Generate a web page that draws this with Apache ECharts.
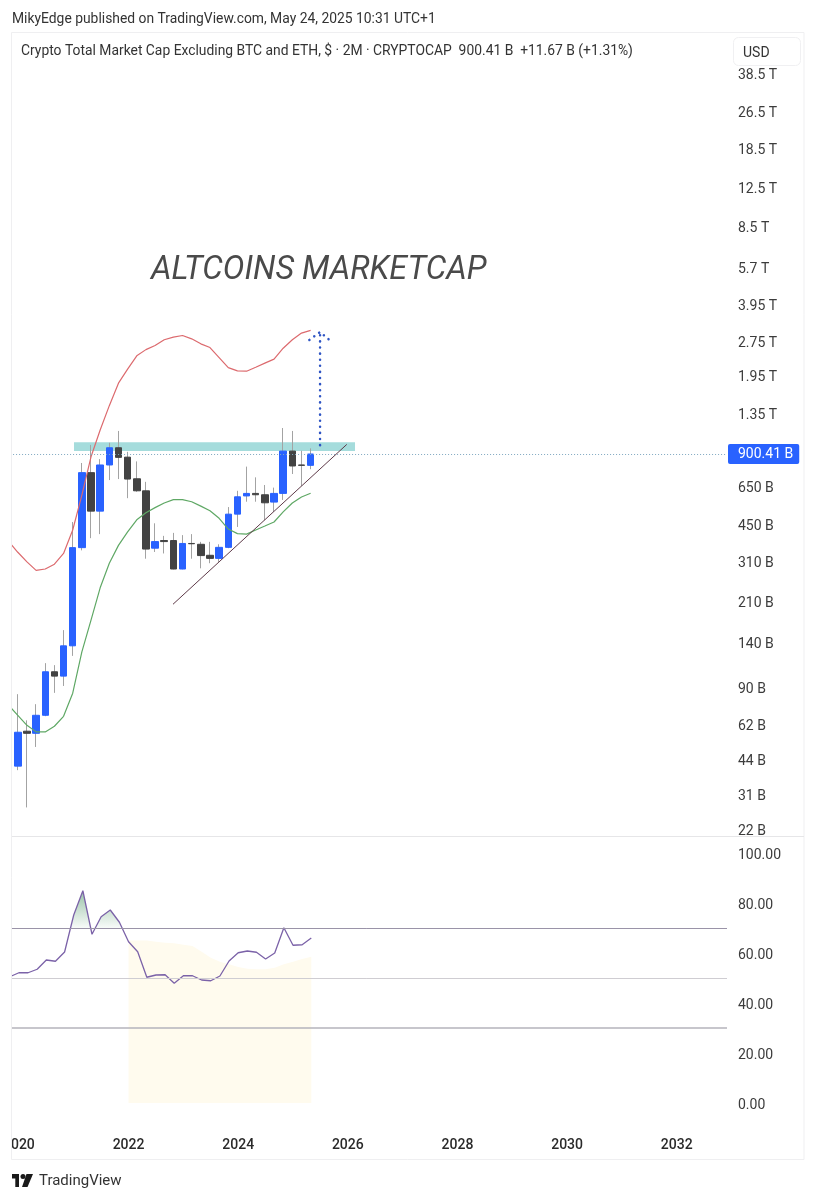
<!DOCTYPE html>
<html>
<head>
<meta charset="utf-8">
<title>Altcoins Marketcap</title>
<script src="https://cdn.jsdelivr.net/npm/echarts@6/dist/echarts.min.js"></script>
<style>
  html, body { margin: 0; padding: 0; background: #fff; }
  #chart { width: 816px; height: 1200px; }
</style>
</head>
<body>
<div id="chart"></div>
<script>
// 2M bars, the first slot is only there so the indicators run off the left edge
const barDates = [
  '2019-11',
  '2020-01','2020-03','2020-05','2020-07','2020-09','2020-11',
  '2021-01','2021-03','2021-05','2021-07','2021-09','2021-11',
  '2022-01','2022-03','2022-05','2022-07','2022-09','2022-11',
  '2023-01','2023-03','2023-05','2023-07','2023-09','2023-11',
  '2024-01','2024-03','2024-05','2024-07','2024-09','2024-11',
  '2025-01','2025-03','2025-05','2025-07','2025-09','2025-11',
  '2026-01','2026-03','2026-05','2026-07','2026-09','2026-11',
  '2027-01','2027-03','2027-05','2027-07','2027-09','2027-11',
  '2028-01','2028-03','2028-05','2028-07','2028-09','2028-11',
  '2029-01','2029-03','2029-05','2029-07','2029-09','2029-11',
  '2030-01','2030-03','2030-05','2030-07','2030-09','2030-11',
  '2031-01','2031-03','2031-05','2031-07','2031-09','2031-11',
  '2032-01','2032-03','2032-05','2032-07','2032-09','2032-11'
];

// candles from 2020-01 to 2025-05, in billions of USD
const opens = [41.2,58.2,57.0,68.1,104.7,100.3,135.3,357,749,512,808,958,873,705,626,355,383,383,289,372,369,331,321,358,497,595,610,602,560,610,927,808,805];
const closes = [57.6,57.0,68.1,104.7,100.3,135.3,357,749,512,808,958,871,703,626,352,379,379,289,372,371,330,321,358,497,590,610,602,556,610,927,800,805,900.41];
const lows = [39.6,27.4,49.8,67.5,85,91,122.5,347.5,392,408,696,703,582,620,320,342,337,288,288,320,291,306,310,355,438,562,562,468,508,572,739,657,775];
const highs = [83.9,64.8,76,114,111.8,158,460,824,985,856,1006,1131,920,837,684,454,401,413,404,408,378,378,369,533,626,795,715,663,646,1164,1131,930,952];

// bands start one slot before the candles
const upperBand = [380,341,310,285,289,303,337,425,600,876,1142,1452,1813,2083,2376,2526,2630,2784,2860,2904,2810,2675,2578,2335,2115,2048,2041,2123,2210,2300,2562,2784,2974,3055];
const lowerBand = [75.2,68.1,61.7,57.8,57.8,61.1,67.4,84.7,127.5,174.5,240,306,365,417,470,504,530,555,574,574,562,538,514,477,429,410,408,425,442,460,508,555,589,611];

const rsiValues = [50.5,52.1,52.1,53.5,57.2,56.7,60.4,75.2,84.9,67.5,74.5,77.2,72.3,64.5,60.5,50.3,51.2,51.3,47.9,50.9,50.9,49.2,48.9,50.8,56.8,60.1,60.8,60.3,57.6,60,70.1,63.1,63.3,66];
// yellow area starts at 2022-01 (slot 13)
const rsiShadeStart = 13;
const rsiShade = [65,65,65,64.5,64.1,63.9,63.3,62.8,60.5,58.1,56.5,55.5,54.4,53.7,53.5,53.5,54.1,55.5,56.5,57.6,58.5];

const lastPrice = 900.41;
const priceTicks = [38500,26500,18500,12500,8500,5700,3950,2750,1950,1350,650,450,310,210,140,90,62,44,31,22];
const priceTickLabels = ['38.5 T','26.5 T','18.5 T','12.5 T','8.5 T','5.7 T','3.95 T','2.75 T','1.95 T','1.35 T','650 B','450 B','310 B','210 B','140 B','90 B','62 B','44 B','31 B','22 B'];
const rsiTicks = [0,20,40,60,80,100];

// drawings, [slot, price]
const zoneCorners = [[7.14,1011],[37.85,927]];
const trendLine = [[17.96,204],[36.95,990]];
const arrowShaft = [[34.03,983],[34.03,3006]];
const arrowHead = [[32.86,2778],[34.03,3006],[35.15,2758]];

const chart = echarts.init(document.getElementById('chart'), null, { renderer: 'canvas' });
const font = 'Roboto';
const priceLabelOf = new Map(priceTicks.map((v, i) => [v, priceTickLabels[i]]));
// pushes the axis labels a little below their tick
const tickRich = { t: { padding: [4, 0, 0, 0], fontSize: 14, color: '#3c3c3c', fontFamily: font } };

const wickData = [['-','-','-','-']].concat(opens.map((o, i) => [o, closes[i], lows[i], highs[i]]));
const bodyData = [['-','-','-','-']].concat(opens.map((o, i) => [o, closes[i], Math.min(o, closes[i]), Math.max(o, closes[i])]));
const shadeData = barDates.map((d, i) => {
  const v = rsiShade[i - rsiShadeStart];
  return v === undefined ? '-' : v;
});

const option = {
  animation: false,
  backgroundColor: '#ffffff',
  textStyle: { fontFamily: font },
  grid: [
    { left: 4.08, right: 89, top: 37, height: 799 },
    { left: 4.08, right: 89, top: 836, height: 289 }
  ],
  xAxis: [
    { type: 'category', gridIndex: 0, data: barDates, axisLine: { show: false }, axisTick: { show: false }, axisLabel: { show: false } },
    { type: 'value', gridIndex: 0, min: -0.5, max: 78.5, show: false },
    {
      type: 'category', gridIndex: 1, data: barDates,
      axisLine: { show: false }, axisTick: { show: false },
      axisLabel: {
        margin: 13, fontSize: 14, fontWeight: 500, color: '#2a2a2a', fontFamily: font,
        hideOverlap: false,
        interval: (i, v) => v.endsWith('-01') && Number(v.slice(0, 4)) % 2 === 0,
        formatter: v => v.slice(0, 4)
      }
    }
  ],
  yAxis: [
    {
      type: 'log', gridIndex: 0, position: 'right', logBase: 10, min: 20.66, max: 55470,
      axisLine: { show: false }, axisTick: { show: false }, splitLine: { show: false },
      axisLabel: {
        customValues: priceTicks, margin: 11, rich: tickRich,
        formatter: v => '{t|' + (priceLabelOf.get(v) || '') + '}'
      }
    },
    {
      type: 'value', gridIndex: 1, position: 'right', min: -8.8, max: 106.8,
      axisLine: { show: false }, axisTick: { show: false }, splitLine: { show: false },
      axisLabel: {
        customValues: rsiTicks, margin: 11, rich: tickRich,
        formatter: v => '{t|' + v.toFixed(2) + '}'
      }
    }
  ],
  series: [
    {
      name: 'zone', type: 'line', xAxisIndex: 1, yAxisIndex: 0, data: [], silent: true,
      markArea: {
        silent: true,
        itemStyle: { color: '#a5dcdc' },
        data: [[{ coord: zoneCorners[0] }, { coord: zoneCorners[1] }]]
      }
    },
    {
      name: 'wicks', type: 'candlestick', xAxisIndex: 0, yAxisIndex: 0, data: wickData, barWidth: 1,
      itemStyle: { color: '#a3a3a3', color0: '#a3a3a3', borderColor: '#a3a3a3', borderColor0: '#a3a3a3', borderWidth: 1 },
      markLine: {
        silent: true, symbol: 'none', animation: false,
        lineStyle: { color: '#7fa8c0', type: [1, 2], width: 1 },
        label: {
          position: 'end', distance: 1, formatter: '900.41 B', color: '#ffffff', fontSize: 14, fontFamily: font,
          backgroundColor: '#2962ff', borderRadius: 2, padding: [3, 6, 3, 10]
        },
        data: [{ yAxis: lastPrice }]
      }
    },
    {
      name: 'bodies', type: 'candlestick', xAxisIndex: 0, yAxisIndex: 0, data: bodyData, barWidth: 7,
      itemStyle: { color: '#2962ff', color0: '#434343', borderColor: '#2962ff', borderColor0: '#434343', borderWidth: 1 }
    },
    {
      name: 'upper', type: 'line', xAxisIndex: 0, yAxisIndex: 0, data: upperBand, symbol: 'none',
      lineStyle: { color: '#dc6a6e', width: 1.2 }, z: 4
    },
    {
      name: 'lower', type: 'line', xAxisIndex: 0, yAxisIndex: 0, data: lowerBand, symbol: 'none',
      lineStyle: { color: '#5fa865', width: 1.2 }, z: 4
    },
    {
      name: 'trend', type: 'line', xAxisIndex: 1, yAxisIndex: 0, data: trendLine, symbol: 'none',
      lineStyle: { color: '#5e3a48', width: 1 }, z: 5
    },
    {
      name: 'arrowShaft', type: 'line', xAxisIndex: 1, yAxisIndex: 0, data: arrowShaft, symbol: 'none',
      lineStyle: { color: '#2f55c4', width: 2.5, type: [0.1, 6], cap: 'round' }, z: 5
    },
    {
      name: 'arrowHead', type: 'line', xAxisIndex: 1, yAxisIndex: 0, data: arrowHead, symbol: 'none',
      lineStyle: { color: '#2f55c4', width: 2.5, type: [0.1, 6], cap: 'round' }, z: 5
    },
    {
      name: 'shade', type: 'line', xAxisIndex: 2, yAxisIndex: 1, data: shadeData, symbol: 'none',
      lineStyle: { width: 0, opacity: 0 }, areaStyle: { color: '#fffbee', opacity: 1, origin: 0 }, z: 1
    },
    {
      name: 'rsi', type: 'line', xAxisIndex: 2, yAxisIndex: 1, data: rsiValues, symbol: 'none',
      lineStyle: { color: '#7b62a8', width: 1.3 }, z: 4,
      // only the part over 70 is tinted, the gradient runs in page pixels
      areaStyle: {
        origin: 70, opacity: 1,
        color: {
          type: 'linear', global: true, x: 0, y: 888, x2: 0, y2: 1088,
          colorStops: [
            { offset: 0, color: 'rgba(110,170,130,0.75)' },
            { offset: 0.2, color: 'rgba(110,170,130,0.05)' },
            { offset: 0.2, color: 'rgba(110,170,130,0)' },
            { offset: 1, color: 'rgba(110,170,130,0)' }
          ]
        }
      },
      markLine: {
        silent: true, symbol: 'none', animation: false, label: { show: false },
        data: [
          { yAxis: 70, lineStyle: { color: '#9a93a8', type: 'solid', width: 1 } },
          { yAxis: 50, lineStyle: { color: '#cfcdd2', type: 'solid', width: 1 } },
          { yAxis: 30, lineStyle: { color: '#b5b3bb', type: 'solid', width: 1.5 } }
        ]
      }
    }
  ],
  graphic: [
    // cuts the lines and the 2020 label at the frame
    { type: 'rect', z: 100, shape: { x: 0, y: 30, width: 11.5, height: 1135 }, style: { fill: '#ffffff' } },
    { type: 'rect', z: 101, shape: { x: 11.5, y: 32.5, width: 792.5, height: 1127 }, style: { fill: 'none', stroke: '#efeff1', lineWidth: 1 } },
    { type: 'line', z: 101, shape: { x1: 12, y1: 836.5, x2: 804, y2: 836.5 }, style: { stroke: '#e6e6e8', lineWidth: 1 } },
    { type: 'text', z: 102, x: 12, y: 20, style: { text: 'MikyEdge published on TradingView.com, May 24, 2025 10:31 UTC+1', fill: '#333333', fontFamily: font, fontSize: 13.87, verticalAlign: 'middle' } },
    { type: 'text', z: 102, x: 21, y: 52, style: { text: 'Crypto Total Market Cap Excluding BTC and ETH, $ · 2M · CRYPTOCAP  900.41 B  +11.67 B (+1.31%)', fill: '#333333', fontFamily: font, fontSize: 13.87, verticalAlign: 'middle' } },
    { type: 'rect', z: 101, shape: { x: 733.5, y: 37.5, width: 67, height: 28, r: 5 }, style: { fill: '#ffffff', stroke: '#f0f0f2', lineWidth: 1 } },
    { type: 'text', z: 102, x: 743, y: 53, style: { text: 'USD', fill: '#333333', fontFamily: font, fontSize: 14, verticalAlign: 'middle' } },
    { type: 'text', z: 102, x: 151, y: 271, style: { text: 'ALTCOINS MARKETCAP', fill: '#4a4a4a', fontFamily: font, fontSize: 32.4, fontStyle: 'italic', fontWeight: 400, verticalAlign: 'middle' } },
    // TradingView logo
    { type: 'polygon', z: 102, shape: { points: [[12, 1174], [19, 1174], [19, 1187], [15.3, 1187], [15.3, 1178.5], [12, 1178.5]] }, style: { fill: '#1a1a1a' } },
    { type: 'polygon', z: 102, shape: { points: [[26.5, 1174], [33, 1174], [27.5, 1187], [22, 1187]] }, style: { fill: '#1a1a1a' } },
    { type: 'circle', z: 102, shape: { cx: 23, cy: 1176.5, r: 2.5 }, style: { fill: '#1a1a1a' } },
    { type: 'text', z: 102, x: 39, y: 1181, style: { text: 'TradingView', fill: '#333333', fontFamily: font, fontSize: 15, verticalAlign: 'middle' } }
  ]
};

chart.setOption(option);
</script>
</body>
</html>
